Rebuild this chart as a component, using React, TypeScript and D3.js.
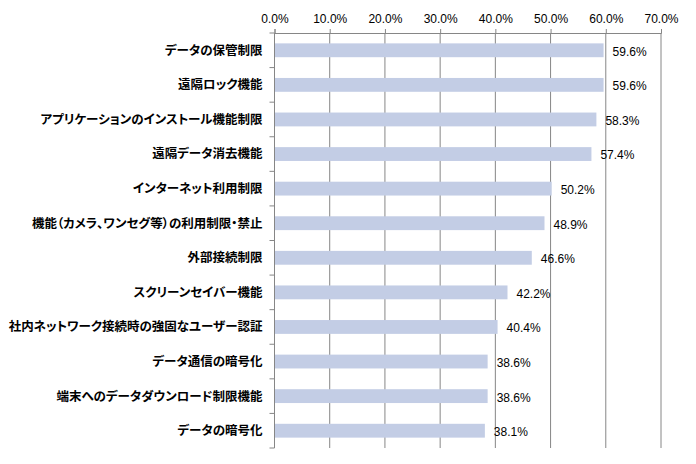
import { useEffect, useRef } from 'react';
import * as d3 from 'd3';

const categories = [
  'データの保管制限',
  '遠隔ロック機能',
  'アプリケーションのインストール機能制限',
  '遠隔データ消去機能',
  'インターネット利用制限',
  '機能（カメラ、ワンセグ等）の利用制限・禁止',
  '外部接続制限',
  'スクリーンセイバー機能',
  '社内ネットワーク接続時の強固なユーザー認証',
  'データ通信の暗号化',
  '端末へのデータダウンロード制限機能',
  'データの暗号化',
];

const values = [59.6, 59.6, 58.3, 57.4, 50.2, 48.9, 46.6, 42.2, 40.4, 38.6, 38.6, 38.1];

const xTicks = [0, 10, 20, 30, 40, 50, 60, 70];

export default function App() {
  const svgRef = useRef<SVGSVGElement>(null);

  useEffect(() => {
    document.body.style.margin = '0';
    if (!svgRef.current) return;

    const svg = d3.select(svgRef.current);
    svg.selectAll('*').remove();

    const width = 696;
    const height = 464;
    const margin = { top: 33, right: 35, bottom: 16, left: 274.5 };

    const chartWidth = width - margin.left - margin.right;
    const chartHeight = height - margin.top - margin.bottom;

    svg.append('rect')
      .attr('width', width)
      .attr('height', height)
      .attr('fill', '#fff');

    const g = svg.append('g')
      .attr('transform', `translate(${margin.left},${margin.top})`);

    const xScale = d3.scaleLinear()
      .domain([0, 70])
      .range([0, chartWidth]);

    const yScale = d3.scaleBand<string>()
      .domain(categories)
      .range([0, chartHeight])
      .paddingInner(0.6)
      .paddingOuter(0.3);

    const gray = '#868686';

    // Grid lines
    g.append('g')
      .selectAll('line')
      .data(xTicks.slice(1))
      .enter()
      .append('line')
      .attr('x1', d => xScale(d))
      .attr('x2', d => xScale(d))
      .attr('y1', 0)
      .attr('y2', chartHeight)
      .attr('stroke', gray)
      .attr('stroke-width', 1);

    // Bars
    g.selectAll('.bar')
      .data(values)
      .enter()
      .append('rect')
      .attr('x', 0)
      .attr('y', (d, i) => yScale(categories[i])!)
      .attr('width', d => xScale(d))
      .attr('height', yScale.bandwidth())
      .attr('fill', '#c3cde5');

    // Top axis
    const xAxis = d3.axisTop(xScale)
      .tickValues(xTicks)
      .tickSize(4)
      .tickPadding(6)
      .tickFormat(d => `${(+d).toFixed(1)}%`);

    const xg = g.append('g').call(xAxis);
    xg.select('.domain').attr('stroke', gray);
    xg.selectAll('.tick line').attr('stroke', gray);
    xg.selectAll('text')
      .attr('fill', '#000')
      .style('font-family', 'Arial, "Liberation Sans", sans-serif')
      .style('font-size', '12px');

    // Left axis with category separators
    const bandStep = chartHeight / categories.length;
    g.append('line')
      .attr('x1', 0)
      .attr('x2', 0)
      .attr('y1', 0)
      .attr('y2', chartHeight)
      .attr('stroke', gray);
    g.append('g')
      .selectAll('line')
      .data(d3.range(categories.length + 1))
      .enter()
      .append('line')
      .attr('x1', -5)
      .attr('x2', 0)
      .attr('y1', d => bandStep * d)
      .attr('y2', d => bandStep * d)
      .attr('stroke', gray);

    // Category labels
    g.append('g')
      .selectAll('text')
      .data(categories)
      .enter()
      .append('text')
      .attr('x', -12)
      .attr('y', d => yScale(d)! + yScale.bandwidth() / 2)
      .attr('dy', '0.35em')
      .attr('text-anchor', 'end')
      .style('font-family', '"Noto Sans CJK JP", sans-serif')
      .style('font-size', '12.5px')
      .style('font-weight', '700')
      .style('font-feature-settings', '"palt" 1')
      .text(d => d);

    // Value labels
    g.append('g')
      .selectAll('text')
      .data(values)
      .enter()
      .append('text')
      .attr('x', d => xScale(d) + 9)
      .attr('y', (d, i) => yScale(categories[i])! + yScale.bandwidth() / 2)
      .attr('dy', '0.45em')
      .style('font-family', 'Arial, "Liberation Sans", sans-serif')
      .style('font-size', '12px')
      .text(d => `${d.toFixed(1)}%`);
  }, []);

  return (
    <svg ref={svgRef} width={696} height={464} style={{ display: 'block' }} />
  );
}
